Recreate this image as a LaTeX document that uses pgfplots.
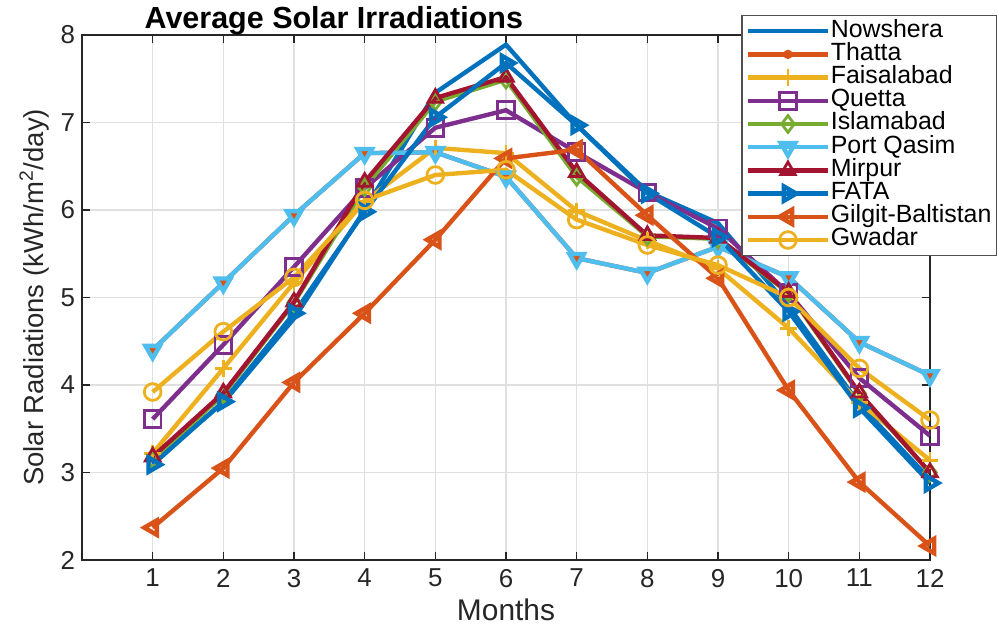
\documentclass[border=0pt]{standalone}
\usepackage{pgfplots}
\pgfplotsset{compat=1.18}
\usepackage{fontspec}
\setmainfont{Liberation Sans}
\definecolor{c1}{HTML}{0072BD}
\definecolor{c2}{HTML}{D95319}
\definecolor{c3}{HTML}{EDB120}
\definecolor{c4}{HTML}{7E2F8E}
\definecolor{c5}{HTML}{77AC30}
\definecolor{c6}{HTML}{4DBEEE}
\definecolor{c7}{HTML}{A2142F}
\definecolor{axc}{HTML}{262626}
\begin{document}
\begin{tikzpicture}
\begin{axis}[
  scale only axis,
  width=424bp, height=262.5bp,
  xmin=0, xmax=12, ymin=2, ymax=8,
  xtick={1,...,12}, ytick={2,...,8},
  grid=major,
  major grid style={draw=black!12, line width=0.6pt},
  axis line style={draw=axc, line width=0.7pt},
  tick style={draw=axc, line width=0.7pt},
  tick align=inside,
  major tick length=4bp,
  ticklabel style={font=\fontsize{13}{14}\selectfont, text=axc},
  xticklabel style={yshift=-1bp},
  /pgf/number format/assume math mode=true,
  xlabel={Months},
  ylabel={Solar Radiations (kWh/m\textsuperscript{2}/day)},
  xlabel style={font=\fontsize{15}{16}\selectfont, text=axc, yshift=1bp},
  ylabel style={font=\fontsize{13.8}{15}\selectfont, text=axc, yshift=-1bp},
  title={\textbf{Average Solar Irradiations}},
  title style={font=\fontsize{15.3}{17}\selectfont, at={(0.297,1)}, anchor=base, yshift=-2.5bp},
  every axis plot/.append style={line width=2.2pt, mark size=4.2pt, mark options={solid, line width=1.4pt}},
  legend style={at={(1,1)}, anchor=north east, xshift=33.5bp, yshift=10bp,
    font=\fontsize{12.5}{13}\selectfont, draw=axc!80, line width=0.6pt,
    row sep=0pt, inner sep=2bp,
    nodes={inner sep=0.5bp, text height=8.2bp, text depth=2.4bp},
    cells={anchor=west}},
  legend image code/.code={\draw[mark repeat=2,mark phase=2] plot coordinates {(0cm,0cm) (0.7cm,0cm) (1.4cm,0cm)};},
  legend cell align=left,
]
% Nowshera
\addplot[c1] coordinates {(1,3.12) (2,3.80) (3,4.76) (4,6.00) (5,7.34) (6,7.89) (7,6.97) (8,6.21) (9,5.85) (10,4.90) (11,3.78) (12,2.92)};
% Thatta (hidden beneath Port Qasim)
\addplot[c2, mark=*, mark size=1.6pt] coordinates {(1,4.40) (2,5.17) (3,5.94) (4,6.65) (5,6.66) (6,6.38) (7,5.45) (8,5.28) (9,5.58) (10,5.23) (11,4.49) (12,4.11)};
% Faisalabad
\addplot[c3, mark=+] coordinates {(1,3.22) (2,4.19) (3,5.17) (4,6.10) (5,6.71) (6,6.65) (7,5.99) (8,5.65) (9,5.33) (10,4.65) (11,3.80) (12,3.14)};
% Quetta
\addplot[c4, mark=square] coordinates {(1,3.61) (2,4.46) (3,5.35) (4,6.25) (5,6.94) (6,7.14) (7,6.66) (8,6.20) (9,5.79) (10,5.05) (11,4.08) (12,3.42)};
% Islamabad
\addplot[c5, mark=diamond] coordinates {(1,3.15) (2,3.89) (3,4.94) (4,6.26) (5,7.24) (6,7.49) (7,6.38) (8,5.70) (9,5.67) (10,5.05) (11,3.90) (12,3.00)};
% Port Qasim
\addplot[c6, mark=triangle, mark options={rotate=180}] coordinates {(1,4.40) (2,5.17) (3,5.94) (4,6.65) (5,6.66) (6,6.38) (7,5.45) (8,5.28) (9,5.58) (10,5.23) (11,4.49) (12,4.11)};
% Mirpur
\addplot[c7, mark=triangle] coordinates {(1,3.18) (2,3.91) (3,4.95) (4,6.32) (5,7.28) (6,7.52) (7,6.43) (8,5.71) (9,5.68) (10,5.06) (11,3.91) (12,3.00)};
% FATA
\addplot[c1, mark=triangle, mark options={rotate=-90}] coordinates {(1,3.09) (2,3.81) (3,4.82) (4,5.98) (5,7.06) (6,7.68) (7,6.97) (8,6.19) (9,5.69) (10,4.84) (11,3.74) (12,2.88)};
% Gilgit-Baltistan
\addplot[c2, mark=triangle, mark options={rotate=90}] coordinates {(1,2.37) (2,3.05) (3,4.03) (4,4.82) (5,5.66) (6,6.59) (7,6.69) (8,5.94) (9,5.22) (10,3.94) (11,2.89) (12,2.16)};
% Gwadar
\addplot[c3, mark=o] coordinates {(1,3.92) (2,4.61) (3,5.23) (4,6.11) (5,6.40) (6,6.46) (7,5.89) (8,5.60) (9,5.37) (10,5.00) (11,4.19) (12,3.60)};
\legend{Nowshera,Thatta,Faisalabad,Quetta,Islamabad,Port Qasim,Mirpur,FATA,Gilgit-Baltistan,Gwadar}
\end{axis}
\pgfresetboundingbox
\path ([xshift=-41bp,yshift=-33bp]current axis.south west) rectangle ([xshift=34bp,yshift=17.5bp]current axis.north east);
\end{tikzpicture}
\end{document}
